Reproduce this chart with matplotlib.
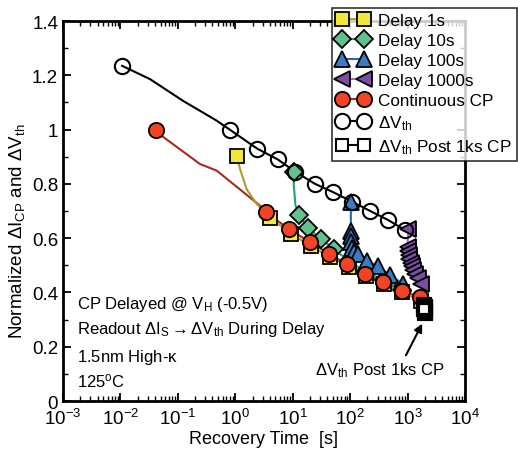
import numpy
import matplotlib
matplotlib.use('Agg')
from matplotlib import pyplot
from matplotlib.ticker import FixedLocator, LogLocator, NullFormatter, FuncFormatter

pyplot.rcParams['font.family'] = ['Liberation Sans', 'DejaVu Sans']
pyplot.rcParams['mathtext.fontset'] = 'custom'
pyplot.rcParams['mathtext.rm'] = 'Liberation Sans'
pyplot.rcParams['mathtext.it'] = 'Liberation Sans:italic'

# delta Vth (open circles) and the smooth line through it
vth_t = [0.0107, 0.8, 2.4, 5.5, 11, 24.5, 50, 107, 224, 457, 900]
vth_v = [1.235, 1.0, 0.93, 0.89, 0.845, 0.80, 0.77, 0.735, 0.70, 0.667, 0.63]
vth_line_t = [0.0107, 0.0327, 0.123, 0.474, 0.8, 2.4, 5.5, 11, 24.5, 50, 107, 224, 457, 900]
vth_line_v = [1.235, 1.186, 1.106, 1.033, 1.0, 0.93, 0.89, 0.845, 0.80, 0.77, 0.735, 0.70, 0.667, 0.63]

# continuous CP
cont_t = [0.041, 3.39, 8.6, 20, 43.4, 89.4, 181, 378, 790, 1645]
cont_v = [1.0, 0.695, 0.634, 0.585, 0.542, 0.503, 0.468, 0.440, 0.407, 0.382]
cont_line_t = [0.041, 0.0524, 0.243, 0.474, 2.69, 3.39, 8.6, 20, 43.4, 89.4, 181, 378, 790, 1645]
cont_line_v = [1.0, 0.977, 0.873, 0.849, 0.72, 0.695, 0.634, 0.585, 0.542, 0.503, 0.468, 0.440, 0.407, 0.382]

# delay 1s
d1_t = [1.06, 4.1, 9.5, 21, 45, 95, 190, 390, 800, 1700]
d1_v = [0.903, 0.675, 0.615, 0.57, 0.53, 0.495, 0.46, 0.43, 0.40, 0.37]
d1_line_t = [1.06, 1.21, 1.58, 2.36, 4.1, 9.5, 21, 45, 95, 190, 390, 800, 1700]
d1_line_v = [0.903, 0.855, 0.78, 0.726, 0.675, 0.615, 0.57, 0.53, 0.495, 0.46, 0.43, 0.40, 0.37]

# delay 10s
d10_t = [10.7, 13, 18.7, 30.7, 52.5, 95, 190, 390, 800]
d10_v = [0.845, 0.686, 0.637, 0.597, 0.56, 0.515, 0.475, 0.445, 0.41]
d10_line_t = [10.7, 10.4, 11.2, 13, 18.7, 30.7, 52.5, 95, 190, 390, 800]
d10_line_v = [0.845, 0.80, 0.72, 0.686, 0.637, 0.597, 0.56, 0.515, 0.475, 0.445, 0.41]

# delay 100s
d100_t = [103, 103, 103, 104, 108, 115, 139, 194, 309, 494, 842]
d100_v = [0.732, 0.627, 0.607, 0.585, 0.564, 0.550, 0.542, 0.517, 0.496, 0.464, 0.431]

# delay 1000s
d1000_t = [1030, 1000, 1020, 1050, 1080, 1130, 1180, 1260, 1360, 1500, 1750]
d1000_v = [0.634, 0.566, 0.552, 0.538, 0.524, 0.51, 0.496, 0.482, 0.468, 0.452, 0.432]

# delta Vth after 1ks CP
post_t = [1950, 2000, 2050, 1980, 2020, 1960]
post_v = [0.352, 0.345, 0.338, 0.332, 0.326, 0.34]

fig = pyplot.figure(figsize=(5.18, 4.52), dpi=100)
ax = fig.add_axes([0.1216, 0.1106, 0.776, 0.8407])

ax.plot(cont_line_t, cont_line_v, '-', color='#a82a1c', lw=1.5, zorder=2)
ax.plot(d1_line_t, d1_line_v, '-', color='#a89c34', lw=1.5, zorder=2)
ax.plot(d10_line_t, d10_line_v, '-', color='#1fa56a', lw=1.5, zorder=2)
ax.plot(d100_t, d100_v, '-', color='#2468b4', lw=1.5, zorder=2)
ax.plot(d1000_t, d1000_v, '-', color='#9a74c4', lw=1.5, zorder=2)
ax.plot(vth_line_t, vth_line_v, '-', color='black', lw=1.5, zorder=2)

ax.plot(d1_t, d1_v, 's', mfc='#f2e83a', mec='black', ms=10, mew=1.3, zorder=3)
ax.plot(d10_t, d10_v, 'D', mfc='#62c08e', mec='black', ms=9, mew=1.3, zorder=3)
ax.plot(d100_t, d100_v, '^', mfc='#3a7cc4', mec='black', ms=11, mew=1.3, zorder=3)
ax.plot(d1000_t, d1000_v, '<', mfc='#7a4ea2', mec='black', ms=11, mew=1.3, zorder=3)
ax.plot(cont_t, cont_v, 'o', mfc='#f24422', mec='black', ms=11, mew=1.3, zorder=4)
ax.plot(vth_t, vth_v, 'o', mfc='none', mec='black', ms=11, mew=1.5, zorder=5)
ax.plot(post_t, post_v, 's', mfc='white', mec='black', ms=9, mew=3, zorder=5)

# legend handles
h = []
h.append(ax.plot([], [], 's-', color='#a89c34', mfc='#f2e83a', mec='black', ms=10, mew=1.3)[0])
h.append(ax.plot([], [], 'D-', color='#1fa56a', mfc='#62c08e', mec='black', ms=9, mew=1.3)[0])
h.append(ax.plot([], [], '^-', color='#2468b4', mfc='#3a7cc4', mec='black', ms=11, mew=1.3)[0])
h.append(ax.plot([], [], '<-', color='#9a74c4', mfc='#7a4ea2', mec='black', ms=11, mew=1.3)[0])
h.append(ax.plot([], [], 'o-', color='#a82a1c', mfc='#f24422', mec='black', ms=11, mew=1.3)[0])
h.append(ax.plot([], [], 'o-', color='black', mfc='white', mec='black', ms=11, mew=1.5)[0])
h.append(ax.plot([], [], 's-', color='black', mfc='white', mec='black', ms=9, mew=1.5)[0])
labels = ['Delay 1s', 'Delay 10s', 'Delay 100s', 'Delay 1000s', 'Continuous CP',
          r'$\mathregular{\Delta V_{th}}$', r'$\mathregular{\Delta V_{th}}$ Post 1ks CP']
leg = fig.legend(h, labels, loc='upper left', bbox_to_anchor=(0.641, 0.981), numpoints=2,
                 fontsize=12.3, frameon=True, fancybox=False, edgecolor='black',
                 handlelength=1.85, handletextpad=0.55, borderpad=0.3, labelspacing=0.3,
                 borderaxespad=0)
leg.get_frame().set_linewidth(1.2)

ax.set_xscale('log')
ax.set_xlim(1e-3, 1e4)
ax.set_ylim(0, 1.4)
ax.xaxis.set_major_locator(LogLocator(base=10, numticks=20))
ax.xaxis.set_minor_locator(LogLocator(base=10, subs=numpy.arange(2, 10), numticks=20))
ax.xaxis.set_minor_formatter(NullFormatter())
ax.yaxis.set_major_locator(FixedLocator(numpy.arange(0, 1.41, 0.2)))
ax.yaxis.set_minor_locator(FixedLocator(numpy.arange(0.1, 1.4, 0.2)))
ax.yaxis.set_major_formatter(FuncFormatter(lambda x, pos: f'{x:g}'))
ax.tick_params(which='both', direction='in', top=True, right=True, labelsize=13.5)
ax.tick_params(which='major', length=6, width=1.3)
ax.tick_params(which='minor', length=3.5, width=1)
ax.tick_params(axis='x', pad=5)
for s in ax.spines.values():
  s.set_linewidth(2)

ax.set_xlabel('Recovery Time  [s]', fontsize=13)
ax.xaxis.set_label_coords(0.5, -0.075)
ax.set_ylabel(r'Normalized $\mathregular{\Delta I_{CP}}$ and $\mathregular{\Delta V_{th}}$', fontsize=13.5)
ax.yaxis.set_label_coords(-0.09, 0.45)

ax.text(0.035, 0.245, r'CP Delayed @ $\mathregular{V_H}$ (-0.5V)', transform=ax.transAxes, fontsize=12)
ax.text(0.035, 0.18, r'Readout $\mathregular{\Delta I_S}$$\mathregular{\rightarrow}$$\mathregular{\Delta V_{th}}$ During Delay',
        transform=ax.transAxes, fontsize=12)
ax.text(0.035, 0.105, r'1.5nm High-$\mathregular{\kappa}$', transform=ax.transAxes, fontsize=12)
ax.text(0.035, 0.04, r'125$\mathregular{^o}$C', transform=ax.transAxes, fontsize=12)

ax.annotate(r'$\mathregular{\Delta V_{th}}$ Post 1ks CP', xy=(1800, 0.285), xytext=(330, 0.08),
            fontsize=12, ha='center', va='bottom',
            arrowprops=dict(arrowstyle='-|>', color='black', lw=1.5, shrinkA=2, shrinkB=0,
                            mutation_scale=12, relpos=(0.68, 1.0)))

fig.savefig('out.png', dpi=100)
